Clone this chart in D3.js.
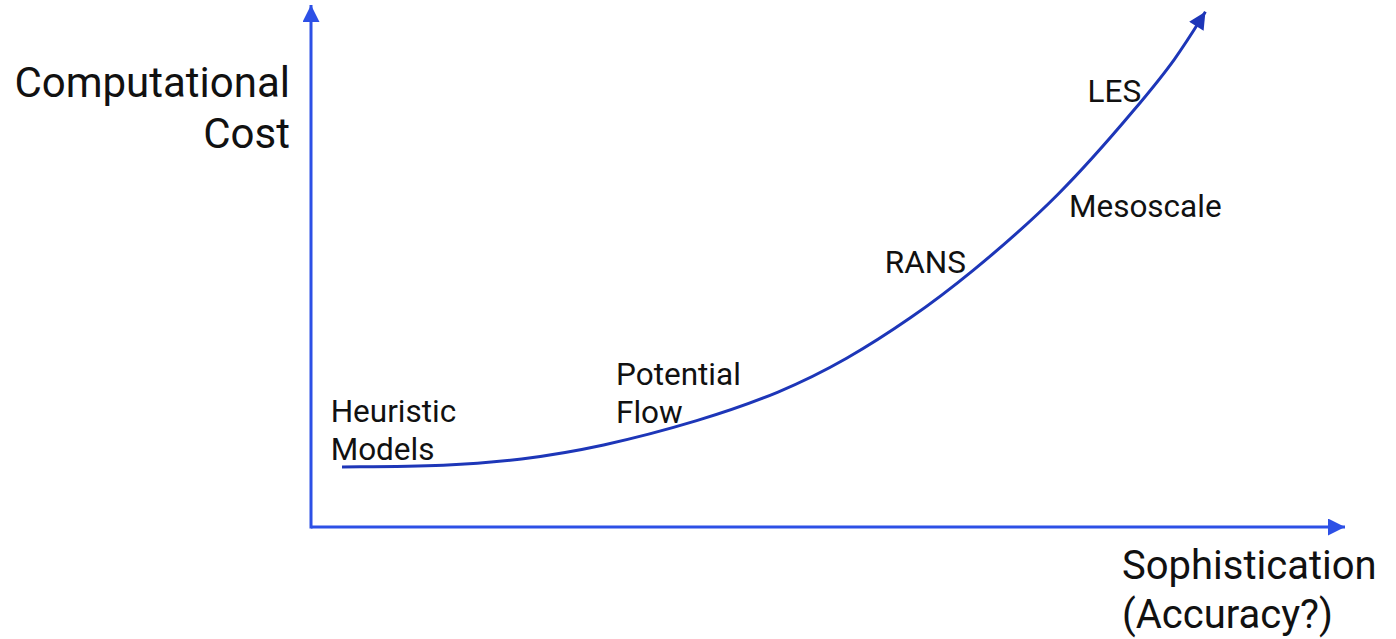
<!DOCTYPE html>
<html>
<head>
	<meta charset="utf-8">
	<title>Cost vs Sophistication</title>
	<script src="https://cdn.jsdelivr.net/npm/d3@7"></script>
	<style>
		html, body { margin: 0; padding: 0; background: #fff; }
		svg { display: block; font-family: Roboto, "Noto Sans", sans-serif; }
	</style>
</head>
<body>
	<div id="chart"></div>
	<script>

	// data (arbitrary units: 0..100 on both axes)
	const curveX = [3.0, 13.4, 20.2, 28.0, 37.6, 45.4, 51.8, 58.2, 63.4, 72.4, 80.2, 83.6, 86.5];
	const curveY = [11.5, 11.7, 12.8, 15.3, 20.3, 25.7, 32.0, 40.2, 47.9, 63.2, 81.2, 89.5, 98.7];

	const labelText = [["Heuristic", "Models"], ["Potential", "Flow"], ["RANS"], ["Mesoscale"], ["LES"]];
	const labelX    = [1.9, 29.5, 55.5, 73.3, 75.1];
	const labelY    = [20.1, 27.2, 48.6, 59.4, 81.4];

	const yTitle = ["Computational", "Cost"];
	const xTitle = ["Sophistication", "(Accuracy?)"];

	// layout
	const width = 1396, height = 639;
	const axisColor  = "#2d50e6";
	const curveColor = "#1d36b8";

	const x = d3.scaleLinear().domain([0, 100]).range([311, 1345]);
	const y = d3.scaleLinear().domain([0, 100]).range([527, 5]);

	const svg = d3.select("#chart").append("svg")
		.attr("width", width)
		.attr("height", height)
		.attr("viewBox", [0, 0, width, height]);

	const defs = svg.append("defs");
	function arrow(id, color) {
		defs.append("marker")
			.attr("id", id)
			.attr("viewBox", "0 0 10 10")
			.attr("refX", 10).attr("refY", 5)
			.attr("markerUnits", "userSpaceOnUse")
			.attr("markerWidth", 18).attr("markerHeight", 17)
			.attr("orient", "auto")
			.append("path")
			.attr("d", "M0,0L10,5L0,10Z")
			.attr("fill", color);
	}
	arrow("axisArrow", axisColor);
	arrow("curveArrow", curveColor);

	// axes
	svg.append("line")
		.attr("x1", x(0)).attr("y1", y(0))
		.attr("x2", x(100)).attr("y2", y(0))
		.attr("stroke", axisColor).attr("stroke-width", 3)
		.attr("marker-end", "url(#axisArrow)");
	svg.append("line")
		.attr("x1", x(0)).attr("y1", y(0) + 1.5)
		.attr("x2", x(0)).attr("y2", y(100))
		.attr("stroke", axisColor).attr("stroke-width", 3)
		.attr("marker-end", "url(#axisArrow)");

	// curve
	const line = d3.line()
		.curve(d3.curveBasis)
		.x(i => x(curveX[i]))
		.y(i => y(curveY[i]));

	svg.append("path")
		.attr("fill", "none")
		.attr("stroke", curveColor)
		.attr("stroke-width", 3)
		.attr("d", line(d3.range(curveX.length)))
		.attr("marker-end", "url(#curveArrow)");

	// point labels
	labelText.forEach((lines, k) => {
		const t = svg.append("text")
			.attr("x", x(labelX[k]))
			.attr("y", y(labelY[k]))
			.attr("font-size", 31.5)
			.attr("fill", "#111");
		lines.forEach((s, j) => {
			t.append("tspan").attr("x", x(labelX[k])).attr("dy", j ? 38 : 0).text(s);
		});
	});

	// axis titles
	const yt = svg.append("text")
		.attr("x", 290).attr("y", 97)
		.attr("text-anchor", "end")
		.attr("font-size", 42)
		.attr("fill", "#111");
	yTitle.forEach((s, j) => yt.append("tspan").attr("x", 290).attr("dy", j ? 51 : 0).text(s));

	const xt = svg.append("text")
		.attr("x", 1122).attr("y", 579)
		.attr("font-size", 40)
		.attr("fill", "#111");
	xTitle.forEach((s, j) => xt.append("tspan").attr("x", 1122).attr("dy", j ? 49 : 0).text(s));

	</script>
</body>
</html>
